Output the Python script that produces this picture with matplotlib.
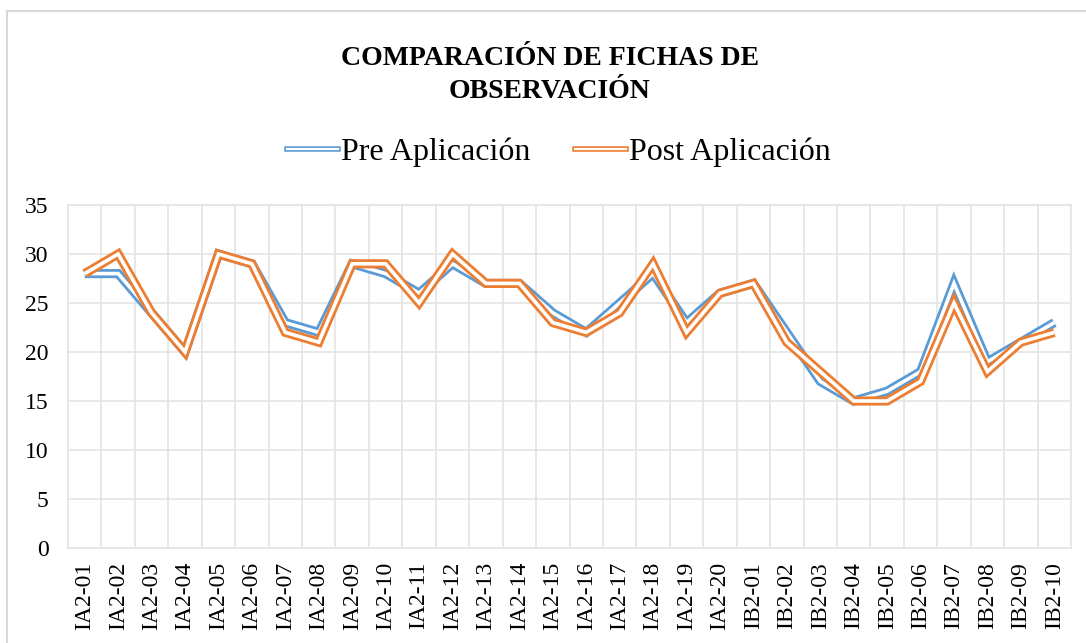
import numpy as np
import matplotlib
matplotlib.use("Agg")
import matplotlib.pyplot as plt
from matplotlib.lines import Line2D
from matplotlib.patches import Rectangle
from matplotlib.legend_handler import HandlerTuple

# data
fichas = ['IA2-%02d' % i for i in range(1, 21)] + ['IB2-%02d' % i for i in range(1, 11)]
pre = [28, 28, 24, 20, 30, 29, 23, 22, 29, 28,
       26, 29, 27, 27, 24, 22, 25, 28, 23, 26,
       27, 22, 17, 15, 16, 18, 27, 19, 21, 23]
post = [28, 30, 24, 20, 30, 29, 22, 21, 29, 29,
        25, 30, 27, 27, 23, 22, 24, 29, 22, 26,
        27, 21, 18, 15, 15, 17, 25, 18, 21, 22]

azul = '#5B9BD5'
naranja = '#ED7D31'
gris = '#e4e4e4'

plt.rcParams['font.family'] = ['Liberation Serif', 'DejaVu Serif']

fig = plt.figure(figsize=(10.86, 6.43), dpi=100)
ax = fig.add_axes([68 / 1086, 1 - 548 / 643, (1071 - 68) / 1086, (548 - 205) / 643])

x = np.arange(len(fichas))

# "double" compound line: thick coloured line with a thin white core
for serie, color in ((pre, azul), (post, naranja)):
    ax.plot(x, serie, color=color, lw=6.6, solid_joinstyle='miter', solid_capstyle='butt')
    ax.plot(x, serie, color='white', lw=2.6, solid_joinstyle='miter', solid_capstyle='butt')

ax.set_xlim(-0.5, len(fichas) - 0.5)
ax.set_ylim(0, 35)
ax.set_yticks(np.arange(0, 36, 5))
ax.set_xticks(x)
ax.set_xticklabels(fichas, rotation=90, fontsize=17)
ax.set_xticks(np.arange(-0.5, len(fichas), 1), minor=True)
ax.tick_params(axis='y', labelsize=17, length=0, pad=14)
ax.tick_params(axis='x', which='both', length=0, pad=10)

ax.grid(True, axis='y', color=gris, lw=1.2)
ax.grid(True, axis='x', which='minor', color=gris, lw=1.2)
ax.set_axisbelow(True)
for s in ax.spines.values():
    s.set_color(gris)
    s.set_linewidth(1.2)

fig.text(550 / 1086, 1 - 75 / 643, 'COMPARACIÓN DE FICHAS DE\nOBSERVACIÓN',
         ha='center', va='center', fontsize=20, fontweight='bold', linespacing=1.4)

h_pre = (Line2D([], [], color=azul, lw=4.0), Line2D([], [], color='white', lw=1.6))
h_post = (Line2D([], [], color=naranja, lw=4.0), Line2D([], [], color='white', lw=1.6))
fig.legend([h_pre, h_post], ['Pre Aplicación', 'Post Aplicación'],
           handler_map={tuple: HandlerTuple(ndivide=1)},
           loc='center', bbox_to_anchor=(559 / 1086, 1 - 152 / 643), ncol=2,
           frameon=False, fontsize=23, handlelength=1.6, handletextpad=0.1,
           columnspacing=1.4)

# chart area border
fig.add_artist(Rectangle((6.5 / 1086, -0.05), 1.1, 1.05 - 10.5 / 643,
                         transform=fig.transFigure, fill=False, edgecolor='#d9d9d9', lw=1.5))

fig.savefig('out.png', dpi=100)
